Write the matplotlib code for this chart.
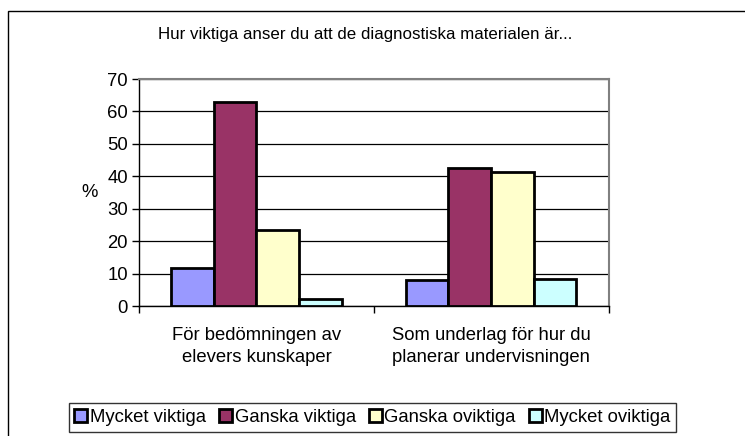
import numpy as np
import matplotlib
matplotlib.use('Agg')
import matplotlib.pyplot as plt
from matplotlib.patches import Rectangle

plt.rcParams['font.family'] = ['Liberation Sans', 'DejaVu Sans']

title = 'Hur viktiga anser du att de diagnostiska materialen är...'
categories = ['För bedömningen av\nelevers kunskaper',
              'Som underlag för hur du\nplanerar undervisningen']
series = ['Mycket viktiga', 'Ganska viktiga', 'Ganska oviktiga', 'Mycket oviktiga']
mycket_viktiga = [11.6, 8.0]
ganska_viktiga = [62.8, 42.6]
ganska_oviktiga = [23.4, 41.2]
mycket_oviktiga = [2.2, 8.2]
colors = ['#9999FF', '#993366', '#FFFFCC', '#CCFFFF']
yticks = [0, 10, 20, 30, 40, 50, 60, 70]

fontsize = 13.3
fig = plt.figure(figsize=(7.45, 4.36), dpi=100)
fig.patches.append(Rectangle((8/745, -0.1), 2.0, 1 - 10.5/436 + 0.1,
                             transform=fig.transFigure, fill=False,
                             edgecolor='black', linewidth=1))
ax = fig.add_axes([139/745, 1 - 306/436, 469.5/745, 227/436])

values = [mycket_viktiga, ganska_viktiga, ganska_oviktiga, mycket_oviktiga]
x = np.arange(len(categories))
bw = 1 / 5.5
for i, (name, vals) in enumerate(zip(series, values)):
    ax.bar(x + (i - 1.5) * bw, vals, width=bw, color=colors[i],
           edgecolor='black', linewidth=2, label=name, zorder=3)

ax.set_xlim(-0.5, 1.5)
ax.set_ylim(0, 70)
ax.set_yticks(yticks)
ax.yaxis.grid(True, color='black', linewidth=0.9, zorder=0)
ax.set_axisbelow(True)
ax.set_xticks([-0.5, 0.5, 1.5])
ax.set_xticklabels([])
ax.set_xticks(x, minor=True)
ax.set_xticklabels(categories, minor=True, fontsize=fontsize, linespacing=1.38)
ax.tick_params(axis='x', which='minor', length=0, pad=15)
ax.tick_params(axis='x', which='major', length=5, width=1, direction='out')
ax.tick_params(axis='y', length=5, width=1, labelsize=fontsize, pad=3)
for s in ['top', 'right']:
    ax.spines[s].set_color('#808080')
    ax.spines[s].set_linewidth(1.5)
for s in ['left', 'bottom']:
    ax.spines[s].set_color('black')
    ax.spines[s].set_linewidth(1)

fig.text(90/745, 1 - 192/436, '%', fontsize=fontsize, ha='center', va='center')
fig.text(365/745, 1 - 35/436, title, fontsize=12.2, ha='center', va='center')

leg = fig.legend(loc='center', bbox_to_anchor=(372.5/745, 1 - 417.5/436),
                 ncol=4, fontsize=fontsize, frameon=True, fancybox=False,
                 handlelength=0.7, handleheight=0.7, handletextpad=0.15,
                 columnspacing=0.7, borderpad=0.3)
leg.get_frame().set_edgecolor('black')
leg.get_frame().set_linewidth(1)
for h in leg.legend_handles:
    h.set_linewidth(2)

fig.savefig('out.png', dpi=100)
